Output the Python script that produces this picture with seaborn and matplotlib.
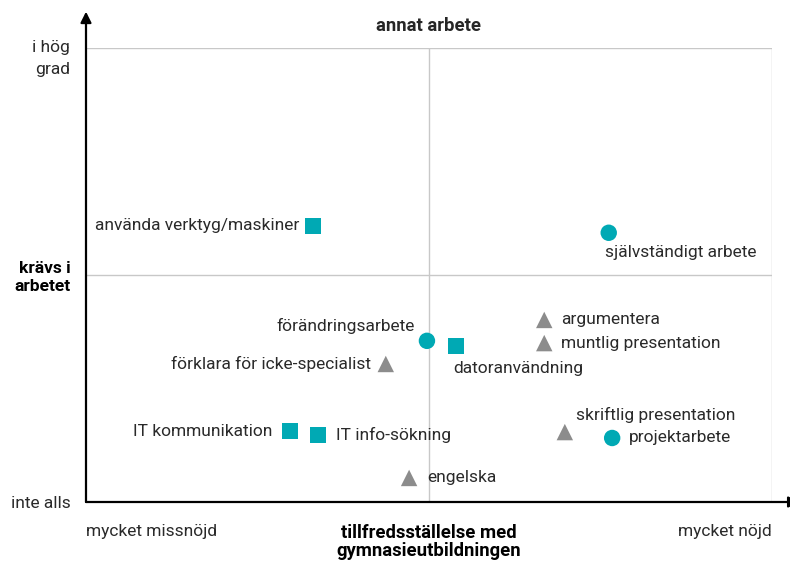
import matplotlib
matplotlib.use("Agg")
import matplotlib.pyplot as plt
import seaborn as sns
import pandas as pd

# data (0 = left/bottom, 1 = right/top)
labels = ["använda verktyg/maskiner", "självständigt arbete", "förändringsarbete",
          "datoranvändning", "argumentera", "muntlig presentation",
          "förklara för icke-specialist", "IT kommunikation", "IT info-sökning",
          "skriftlig presentation", "projektarbete", "engelska"]
satisfaction = [0.331, 0.762, 0.497, 0.539, 0.668, 0.668, 0.437, 0.297, 0.338, 0.698, 0.767, 0.471]
required = [0.608, 0.593, 0.355, 0.344, 0.401, 0.350, 0.304, 0.156, 0.148, 0.154, 0.141, 0.053]
kind = ["square", "circle", "circle", "square", "triangle", "triangle",
        "triangle", "square", "square", "triangle", "circle", "triangle"]

x_ticks = [0, 0.5, 1]
x_ticklabels = ["mycket missnöjd", "tillfredsställelse med\ngymnasieutbildningen", "mycket nöjd"]
y_ticks = [0, 0.5, 1]
y_ticklabels = ["inte alls", "krävs i\narbetet", "i hög\ngrad"]

df = pd.DataFrame({"label": labels, "x": satisfaction, "y": required, "kind": kind})

teal = "#00a9b4"
grey = "#8c8c8c"
palette = {"circle": teal, "square": teal, "triangle": grey}
markers = {"circle": "o", "square": "s", "triangle": "^"}

# label offsets in pixels (dx, dy, ha)
offsets = {
    "använda verktyg/maskiner": (-14, 0, "right"),
    "självständigt arbete": (-4, -20, "left"),
    "förändringsarbete": (-12, 15, "right"),
    "datoranvändning": (-3, -23, "left"),
    "argumentera": (17, 0, "left"),
    "muntlig presentation": (17, 0, "left"),
    "förklara för icke-specialist": (-15, 0, "right"),
    "IT kommunikation": (-17, 0, "right"),
    "IT info-sökning": (18, 0, "left"),
    "skriftlig presentation": (11, 17, "left"),
    "projektarbete": (17, 0, "left"),
    "engelska": (18, 0, "left"),
}

sns.set_style("white")
plt.rcParams["font.family"] = ["Roboto", "DejaVu Sans"]
fs = 12.5
fs_bold = 13.3
txt = "#2a2a2a"
px = 72 / 100

fig = plt.figure(figsize=(7.9, 5.61), dpi=100)
ax = fig.add_axes([86 / 790, 59 / 561, 686 / 790, 454 / 561])

# light grid lines
for v in [0.5, 1]:
    ax.axhline(v, color="#c8c8c8", lw=1, zorder=0)
    ax.axvline(v, color="#c8c8c8", lw=1, zorder=0)

sns.scatterplot(data=df, x="x", y="y", hue="kind", style="kind", palette=palette,
                markers=markers, s=140, edgecolor="none", legend=False, ax=ax, zorder=3)

for lab, xv, yv in zip(labels, satisfaction, required):
    dx, dy, ha = offsets[lab]
    ax.annotate(lab, (xv, yv), xytext=(dx * px, dy * px), textcoords="offset points",
                ha=ha, va="center", color=txt, fontsize=fs)

ax.set_xlim(0, 1)
ax.set_ylim(0, 1)
for s in ax.spines.values():
    s.set_visible(False)

# axis arrows
ax.annotate("", xy=(0, 1.08), xytext=(0, 0), xycoords="data",
            arrowprops=dict(arrowstyle="-|>", color="black", lw=1.6, mutation_scale=16,
                            shrinkA=0, shrinkB=0), annotation_clip=False)
ax.annotate("", xy=(1.04, 0), xytext=(0, 0), xycoords="data",
            arrowprops=dict(arrowstyle="-|>", color="black", lw=1.6, mutation_scale=16,
                            shrinkA=0, shrinkB=0), annotation_clip=False)

ax.set_xticks(x_ticks)
ax.set_xticklabels(x_ticklabels)
ax.set_yticks(y_ticks)
# top label hangs below its tick, drawn separately
ax.set_yticklabels(y_ticklabels[:2] + [""])
ax.annotate(y_ticklabels[2], (0, 1), xytext=(-16 * px, 8 * px), textcoords="offset points",
            ha="right", va="top", multialignment="right", linespacing=1.6,
            color=txt, fontsize=fs, annotation_clip=False)
ax.tick_params(axis="both", direction="out", length=5, width=1.5, color="black",
               labelcolor=txt, labelsize=fs)
ax.tick_params(axis="x", pad=11)
ax.tick_params(axis="y", pad=6)

xl = ax.get_xticklabels()
xl[0].set_ha("left")
xl[1].set_fontweight("bold")
xl[1].set_fontsize(fs_bold)
xl[1].set_color("black")
xl[1].set_linespacing(1.0)
xl[2].set_ha("right")
yl = ax.get_yticklabels()
yl[1].set_fontweight("bold")
yl[1].set_color("black")
for t in yl:
    t.set_multialignment("right")
    t.set_linespacing(1.25)
ax.set_xlabel("")
ax.set_ylabel("")

ax.set_title("annat arbete", fontweight="bold", fontsize=fs_bold, pad=12)

fig.savefig("out.png", dpi=100)
